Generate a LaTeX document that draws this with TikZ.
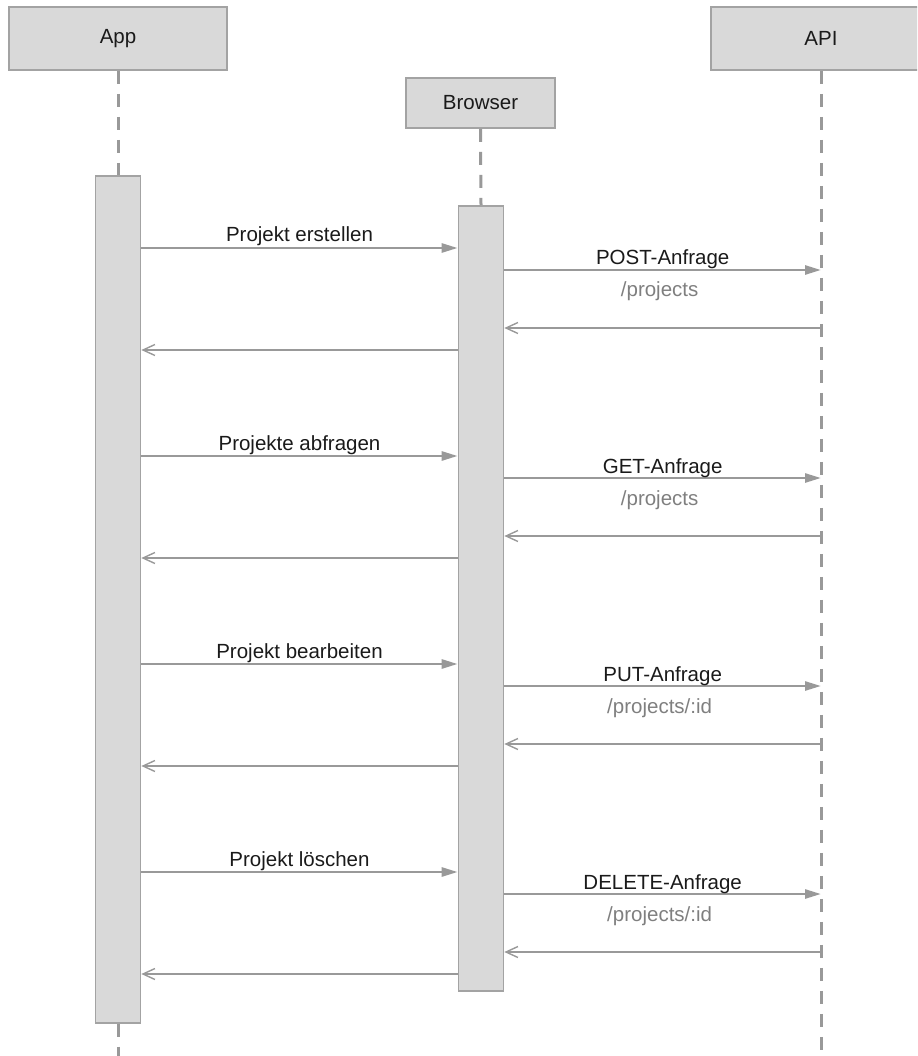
\documentclass[tikz,border=0pt]{standalone}
\usepackage{fontspec}
\setmainfont{Liberation Sans}
\usetikzlibrary{arrows.meta}

\definecolor{boxfill}{HTML}{D9D9D9}
\definecolor{boxline}{HTML}{A3A3A3}
\definecolor{wire}{HTML}{999999}
\definecolor{subtext}{HTML}{7F7F7F}
\definecolor{ink}{HTML}{1A1A1A}

\tikzset{
  party/.style={draw=boxline, fill=boxfill, line width=1.6pt, text=ink,
    font=\fontsize{20.5}{24}\selectfont, inner sep=0pt},
  actbox/.style={draw=boxline, fill=boxfill, line width=1.6pt, inner sep=0pt,
    minimum width=45pt, anchor=north},
  lifeline/.style={draw=wire, line width=3pt, dash pattern=on 13pt off 10pt},
  request/.style={draw=wire, line width=2.6pt,
    -{Triangle[length=16pt,width=9pt]}},
  reply/.style={draw=wire, line width=2pt,
    -{Straight Barb[length=12pt,width=11pt,line width=1.4pt]}},
  msglabel/.style={text=ink, font=\fontsize{20.5}{24}\selectfont,
    anchor=base, inner sep=0pt},
  pathlabel/.style={text=subtext, font=\fontsize{20.5}{24}\selectfont,
    anchor=base, inner sep=0pt}
}

\begin{document}
\begin{tikzpicture}[x=1pt,y=-1pt]
\useasboundingbox (0,0) rectangle (917,1056);
\clip (0,0) rectangle (917,1056);

% participants
\node[party, minimum width=218pt, minimum height=63pt] (app) at (118,38.5) {App};
\node[party, minimum width=149pt, minimum height=50pt] (brw) at (480.5,103) {Browser};
\node[party, minimum width=220pt, minimum height=63pt] (api) at (821,38.5) {API};

% activation bars
\node[actbox, minimum height=847pt] (appact) at (118,175) {};
\node[actbox, minimum height=785pt] (brwact) at (481,205) {};

% lifelines
\coordinate (append) at (118,1060);
\coordinate (apiend) at (821,1060);
\draw[lifeline] (app.south) -- (appact.north);
\draw[lifeline] (appact.south) -- (append);
\draw[lifeline] (brw.south) -- (brwact.north);
\draw[lifeline] (api.south) -- (apiend);

% message groups, one every 208pt
\foreach \i/\call/\verb/\route in {
  0/{Projekt erstellen}/{POST-Anfrage}/{/projects},
  1/{Projekte abfragen}/{GET-Anfrage}/{/projects},
  2/{Projekt bearbeiten}/{PUT-Anfrage}/{/projects/:id},
  3/{Projekt löschen}/{DELETE-Anfrage}/{/projects/:id}}{
  \pgfmathsetmacro{\dy}{208*\i}
  \coordinate (call\i) at (0,248+\dy);
  \coordinate (req\i) at (0,270+\dy);
  \coordinate (ans\i) at (0,328+\dy);
  \coordinate (back\i) at (0,350+\dy);
  % App -> Browser
  \draw[request] (appact.east |- call\i) -- (brwact.west |- call\i)
    coordinate[midway] (callmid\i);
  \node[msglabel] (calllab\i) at ([yshift=6pt]callmid\i) {\call};
  % Browser -> API
  \draw[request] (brwact.east |- req\i) -- (api.south |- req\i)
    coordinate[midway] (reqmid\i);
  \node[msglabel] (reqlab\i) at ([yshift=5pt]reqmid\i) {\verb};
  \node[pathlabel] (route\i) at ([xshift=-3pt,yshift=-27pt]reqmid\i) {\route};
  % API -> Browser
  \draw[reply] (api.south |- ans\i) -- (brwact.east |- ans\i);
  % Browser -> App
  \draw[reply] (brwact.west |- back\i) -- (appact.east |- back\i);
}
\end{tikzpicture}
\end{document}
